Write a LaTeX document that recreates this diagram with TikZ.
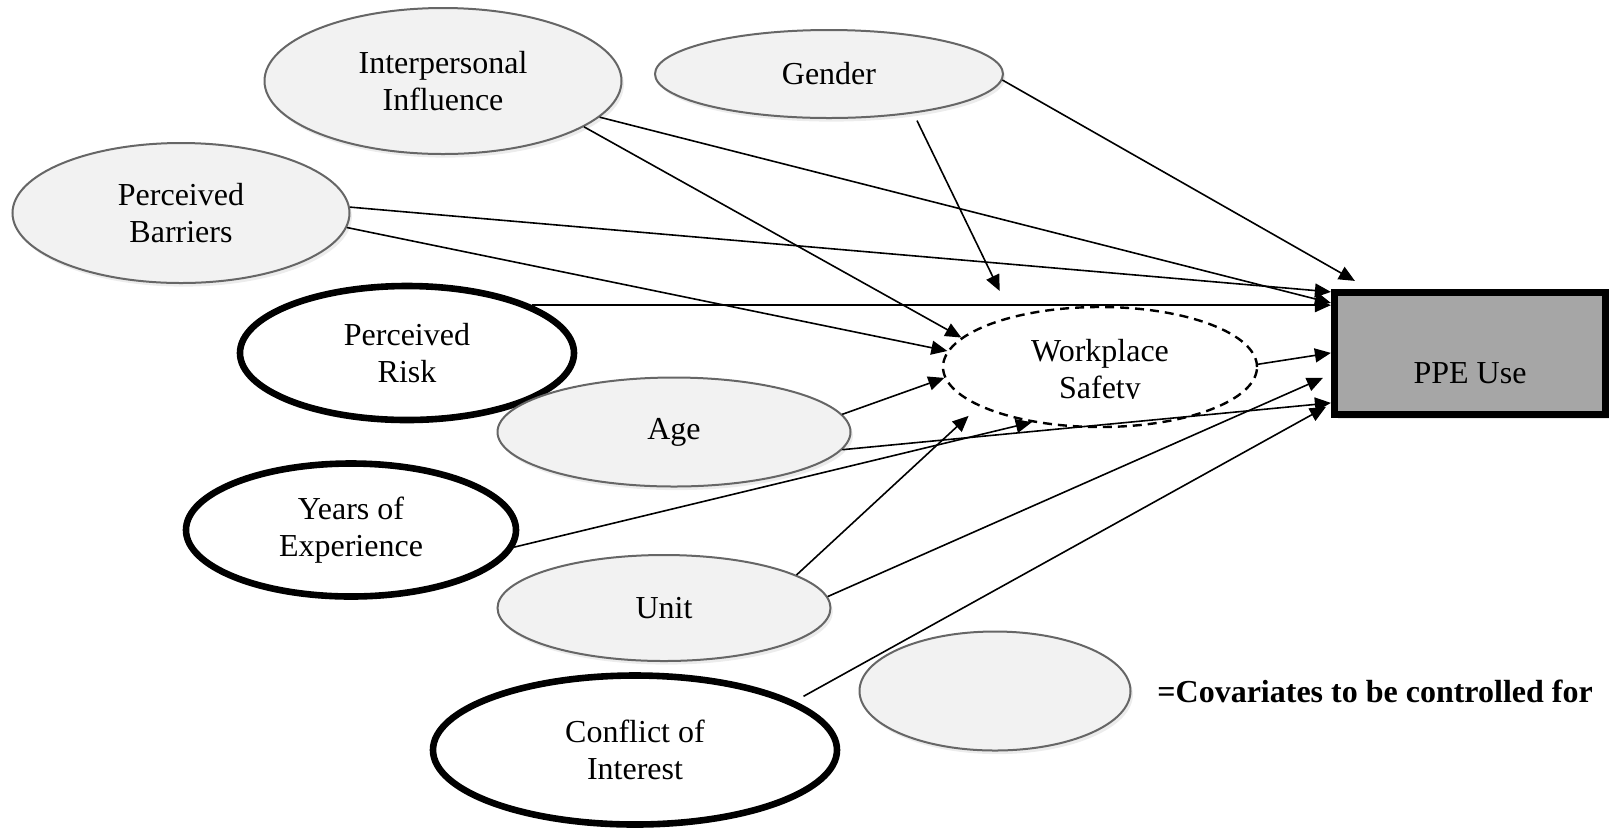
\documentclass[tikz,border=0pt]{standalone}
\usepackage{fontspec}
\setmainfont{Liberation Serif}
\usetikzlibrary{shapes.geometric, arrows.meta, shadows}
\definecolor{covfill}{HTML}{F2F2F2}
\definecolor{covline}{HTML}{666666}
\definecolor{ppefill}{HTML}{A6A6A6}
\tikzstyle{covariate} = [ellipse, inner sep=0pt, draw=covline, line width=1pt, fill=covfill, drop shadow={opacity=0.15, shadow xshift=1.2pt, shadow yshift=-1.8pt}, align=center, font={\fontsize{16pt}{18.5pt}\selectfont}]
\tikzstyle{predictor} = [ellipse, inner sep=0pt, draw=black, line width=3.3pt, fill=white, align=center, font={\fontsize{16pt}{18.5pt}\selectfont}]
\tikzstyle{mediator} = [ellipse, inner sep=0pt, draw=black, line width=1.2pt, dash pattern=on 4.5pt off 3pt]
\tikzstyle{outcome} = [rectangle, draw=black, line width=3.6pt, fill=ppefill, drop shadow={opacity=0.2, shadow xshift=1.5pt, shadow yshift=-2pt}]
\tikzstyle{plaintext} = [inner sep=0pt, align=center, font={\fontsize{16pt}{18.5pt}\selectfont}]
\tikzstyle{arrow} = [line width=0.8pt, -{Triangle[length=8pt, width=7pt]}]

\begin{document}
\begin{tikzpicture}[x=0.5pt, y=-0.5pt]
\useasboundingbox (0,0) rectangle (1612,832);
\node (inter) [covariate, minimum width=178.5pt, minimum height=73pt] at (443,81) {Interpersonal\\Influence};
\node (gender) [covariate, minimum width=174pt, minimum height=44pt] at (829,74) {Gender};
\node (barriers) [covariate, minimum width=168.5pt, minimum height=70pt] at (181,213) {Perceived\\Barriers};
\node (risk) [predictor, minimum width=167pt, minimum height=67pt] at (407,353) {Perceived\\Risk};
\node (safety) [mediator, minimum width=157pt, minimum height=60pt] at (1100,367) {};
\begin{scope}
\clip ([yshift=-15.5pt]safety.west) rectangle (safety.north east);
\node (safetytext) [plaintext] at ([yshift=-2.5pt]safety.center) {Workplace\\Safety};
\end{scope}
\node (age) [covariate, minimum width=176.5pt, minimum height=54.5pt] at (674,432) {Age};
\node (years) [predictor, minimum width=165pt, minimum height=66.5pt] at (351,530) {Years of\\Experience};
\node (unit) [covariate, minimum width=166.5pt, minimum height=53pt] at (664,608) {Unit};
\node (conflict) [predictor, minimum width=202pt, minimum height=74.5pt] at (635,750) {Conflict of\\Interest};
\node (legend) [covariate, minimum width=135.5pt, minimum height=59.5pt] at (995,691) {};
\node (legendtext) [plaintext, anchor=west, font={\fontsize{16pt}{18.5pt}\selectfont\bfseries}] at (1157,691) {=Covariates to be controlled for};
\node (ppe) [outcome, minimum width=135.5pt, minimum height=61pt] at (1470,353.5) {};
\node (ppetext) [plaintext] at ([yshift=-10pt]ppe.center) {PPE Use};

\draw [arrow] (inter.-13.5) -- ([yshift=-7pt]ppe.north west);
\draw [arrow] (inter.-18.6) -- (safety.168.3);
\draw [arrow] (gender.-2.6) -- ([xshift=12pt, yshift=4pt]ppe.north west);
\draw [arrow, shorten <=4pt, shorten >=14pt] (gender.-25.8) -- (safety.150.1);
\draw [arrow] (barriers.2.4) -- ([yshift=-1.5pt]ppe.north west);
\draw [arrow] (barriers.-5.1) -- (safety.174.5);
\draw [arrow] (risk.21.2) -- (risk.21.2 -| ppe.west);
\draw [arrow] (safety.1.8) -- ([yshift=-32pt]ppe.north west);
\draw [arrow] (age.6.5) -- (safety.184.6);
\draw [arrow] (age.-6.9) -- ([yshift=-57pt]ppe.north west);
\draw [arrow] (years.-6.8) -- (safety.219.9);
\draw [arrow, shorten >=7pt] (unit.14.1) -- (safety.198.3);
\draw [arrow] (unit.4.5) -- ([xshift=-4pt, yshift=-44.5pt]ppe.north west);
\draw [arrow, shorten <=5pt] (conflict.17.7) -- ([xshift=-2.5pt, yshift=-59pt]ppe.north west);

\end{tikzpicture}
\end{document}
